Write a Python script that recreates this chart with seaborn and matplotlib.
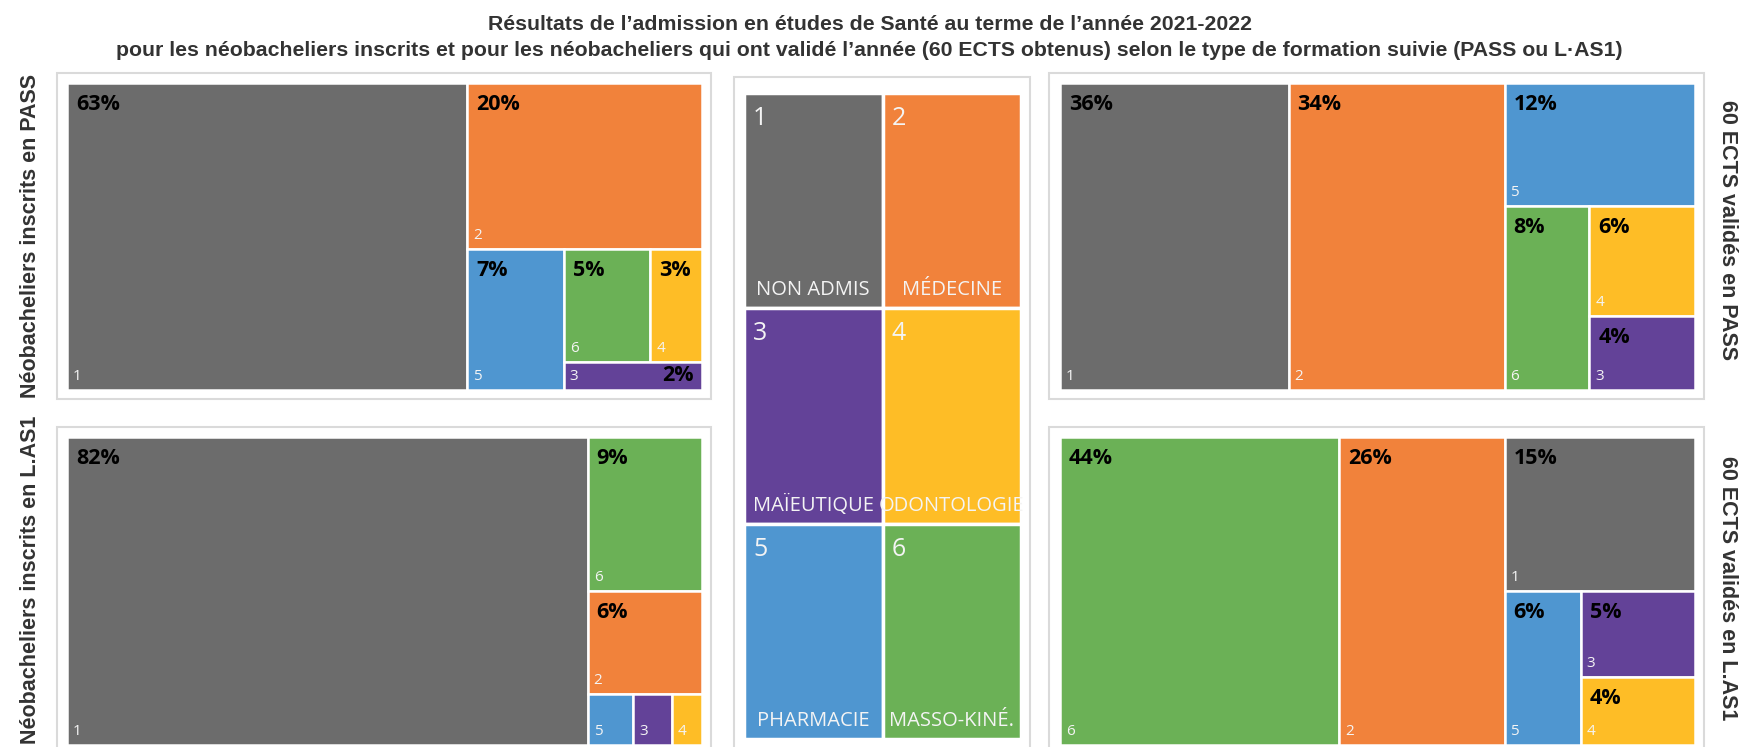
import numpy as np
import seaborn as sns
import matplotlib.pyplot as plt
from matplotlib.patches import Rectangle

# %%
# data (shares in %)
categories = ["NON ADMIS", "MÉDECINE", "MAÏEUTIQUE", "ODONTOLOGIE", "PHARMACIE", "MASSO-KINÉ."]
cat_colors = ["#6c6c6c", "#f1823b", "#634298", "#febd26", "#4f96d0", "#6bb156"]

pass_inscrits_cat = [1, 2, 5, 6, 4, 3]
pass_inscrits_val = [63, 20, 7, 5, 3, 2]

las_inscrits_cat = [1, 6, 2, 5, 3, 4]
las_inscrits_val = [82, 9, 6, 1.2, 1.0, 0.8]

pass_ects_cat = [1, 2, 5, 6, 4, 3]
pass_ects_val = [36, 34, 12, 8, 6, 4]

las_ects_cat = [6, 2, 1, 5, 3, 4]
las_ects_val = [44, 26, 15, 6, 5, 4]

title = ("Résultats de l’admission en études de Santé au terme de l’année 2021-2022\n"
         "pour les néobacheliers inscrits et pour les néobacheliers qui ont validé l’année "
         "(60 ECTS obtenus) selon le type de formation suivie (PASS ou L·AS1)")
left_labels = ["Néobacheliers inscrits en PASS", "Néobacheliers inscrits en L.AS1"]
right_labels = ["60 ECTS validés en PASS", "60 ECTS validés en L.AS1"]


# %%
def treemap_layout(values, groups, x, y, w, h):
    """slice the remaining area along its shorter side, one group at a time"""
    rects = []
    i = 0
    for n in groups:
        grp = values[i:i + n]
        frac = sum(grp) / sum(values[i:])
        i += n
        if w >= h:
            cw = w * frac
            yy = y
            for v in grp:
                ch = h * v / sum(grp)
                rects.append((x, yy, cw, ch))
                yy += ch
            x += cw
            w -= cw
        else:
            rh = h * frac
            xx = x
            for v in grp:
                cw = w * v / sum(grp)
                rects.append((xx, y, cw, rh))
                xx += cw
            y += rh
            h -= rh
    return rects


sns.set_theme(style="white")
plt.rcParams["font.family"] = ["Liberation Sans", "DejaVu Sans"]
pal = sns.color_palette(cat_colors)
soft = ["Open Sans", "DejaVu Sans"]

W, H = 1739, 747
fig = plt.figure(figsize=(W / 100, H / 100), dpi=100)
ax = fig.add_axes([0, 0, 1, 1])
ax.set_xlim(0, W)
ax.set_ylim(H, 0)
ax.axis("off")

border = "#dadada"


def draw_treemap(cats, vals, groups, box, inner):
    ox0, oy0, ox1, oy1 = box
    ax.add_patch(Rectangle((ox0, oy0), ox1 - ox0, oy1 - oy0, facecolor="white",
                           edgecolor=border, lw=1.5, zorder=1))
    x0, y0, x1, y1 = inner
    rects = treemap_layout(vals, groups, x0, y0, x1 - x0, y1 - y0)
    for (rx, ry, rw, rh), c, v in zip(rects, cats, vals):
        ax.add_patch(Rectangle((rx, ry), rw, rh, facecolor=pal[c - 1],
                               edgecolor="white", lw=1.8, zorder=2))
        ax.text(rx + 6, ry + rh - 6, str(c), color="#f4f4f4", fontsize=11,
                family=soft, va="bottom", ha="left", zorder=3)
        # very small tiles get no percentage
        if v < 1.5:
            continue
        lab = f"{v:.0f}%"
        if rh < 40:
            ax.text(rx + rw - 8, ry + rh / 2, lab, fontsize=15.5, fontweight="bold",
                    family=soft, va="center", ha="right", color="black", zorder=3)
        else:
            ax.text(rx + 9, ry + 11, lab, fontsize=15.5, fontweight="bold",
                    family=soft, va="top", ha="left", color="black", zorder=3)


draw_treemap(pass_inscrits_cat, pass_inscrits_val, [1, 1, 1, 2, 1],
             (57, 73, 711, 399), (67, 83, 702, 390))
draw_treemap(las_inscrits_cat, las_inscrits_val, [1, 1, 1, 1, 1, 1],
             (57, 427, 711, 760), (67, 437, 702, 745))
draw_treemap(pass_ects_cat, pass_ects_val, [1, 1, 1, 1, 1, 1],
             (1049, 73, 1704, 399), (1060, 83, 1695, 390))
draw_treemap(las_ects_cat, las_ects_val, [1, 1, 1, 1, 1, 1],
             (1049, 427, 1704, 760), (1060, 437, 1695, 745))

# central legend
ax.add_patch(Rectangle((734, 77), 296, 700, facecolor="white", edgecolor=border,
                       lw=1.5, zorder=1))
lx0, ly0, lx1, ly1 = 744, 93, 1021, 739
cw = (lx1 - lx0) / 2
ch = (ly1 - ly0) / 3
for k, name in enumerate(categories):
    cx = lx0 + (k % 2) * cw
    cy = ly0 + (k // 2) * ch
    cell = Rectangle((cx, cy), cw, ch, facecolor=pal[k], edgecolor="white",
                     lw=2.5, zorder=2)
    ax.add_patch(cell)
    ax.text(cx + 9, cy + 13, str(k + 1), color="#f4f4f4", fontsize=18,
            family=soft, va="top", ha="left", zorder=3)
    t = ax.text(cx + cw / 2, cy + ch - 8, name, color="#f4f4f4", fontsize=14.5,
                family=soft, va="bottom", ha="center", zorder=3)
    t.set_clip_path(cell)

ax.text(W / 2, 15, title, ha="center", va="top", fontsize=15.3, fontweight="bold",
        color="#333333", linespacing=1.5)

for lab, yc in zip(left_labels, [236, 580]):
    ax.text(31, yc, lab, rotation=90, ha="center", va="center", fontsize=15.5,
            fontweight="bold", color="#333333")
for lab, yc in zip(right_labels, [230, 588]):
    ax.text(1728, yc, lab, rotation=270, ha="center", va="center", fontsize=15.5,
            fontweight="bold", color="#333333")

plt.savefig("out.png", dpi=100)
